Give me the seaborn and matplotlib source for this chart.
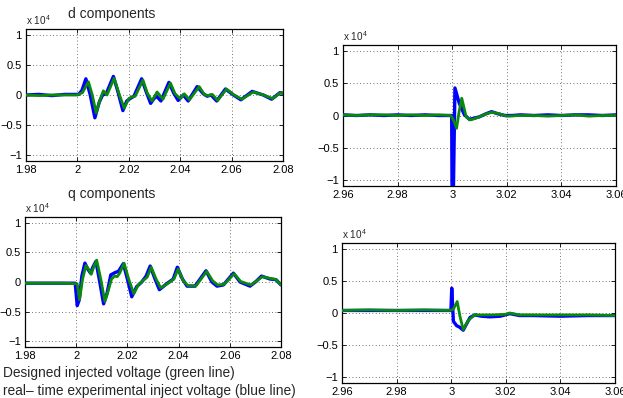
import numpy as np
import pandas as pd
import matplotlib
matplotlib.use("Agg")
import matplotlib.pyplot as plt
import seaborn as sns

sns.set_style("ticks")
plt.rcParams["font.family"] = ["Liberation Sans", "DejaVu Sans"]
plt.rcParams["mathtext.fontset"] = "custom"
plt.rcParams["mathtext.rm"] = "Liberation Sans"
plt.rcParams["mathtext.it"] = "Liberation Sans"
plt.rcParams["axes.unicode_minus"] = True

# ---- d components, 1.98 .. 2.08 s (values in units of 1e4) ----
d_real_t = [1.980, 1.985, 1.990, 1.995, 2.0005, 2.0018, 2.0033, 2.0050, 2.0068, 2.0085,
            2.0098, 2.0112, 2.0140, 2.0158, 2.0177, 2.0192, 2.0205, 2.0220, 2.0250, 2.0268,
            2.0285, 2.0298, 2.0308, 2.0325, 2.0356, 2.0375, 2.0392, 2.0412, 2.0431, 2.0466,
            2.0490, 2.0505, 2.0520, 2.0542, 2.0576, 2.0607, 2.0636, 2.0680, 2.0723, 2.0756,
            2.0788, 2.0800]
d_real_v = [0.00, 0.01, -0.01, 0.01, 0.01, 0.08, 0.27, 0.00, -0.38, -0.12,
            0.00, 0.02, 0.31, 0.05, -0.26, -0.10, -0.06, -0.02, 0.27, 0.05,
            -0.14, -0.06, -0.02, -0.10, 0.21, 0.03, -0.09, 0.00, -0.10, 0.14,
            0.02, -0.02, 0.00, -0.10, 0.10, 0.00, -0.08, 0.06, 0.00, -0.07,
            0.04, 0.03]
d_design_t = [1.980, 1.985, 1.990, 1.995, 2.0000, 2.0020, 2.0043, 2.0058, 2.0073, 2.0088,
              2.0101, 2.0115, 2.0143, 2.0162, 2.0182, 2.0200, 2.0212, 2.0225, 2.0255, 2.0272,
              2.0290, 2.0310, 2.0333, 2.0362, 2.0380, 2.0400, 2.0416, 2.0436, 2.0474, 2.0495,
              2.0510, 2.0525, 2.0546, 2.0580, 2.0610, 2.0640, 2.0684, 2.0725, 2.0760, 2.0790,
              2.0800]
d_design_v = [0.00, -0.01, 0.00, 0.00, 0.00, 0.04, 0.22, 0.00, -0.30, -0.08,
              0.07, 0.00, 0.28, 0.02, -0.22, -0.06, -0.03, -0.02, 0.25, 0.03,
              -0.10, 0.05, -0.07, 0.20, 0.02, -0.06, 0.02, -0.08, 0.14, 0.00,
              -0.01, 0.01, -0.09, 0.10, 0.00, -0.07, 0.05, 0.00, -0.06, 0.04,
              0.03]

# ---- q components, 1.98 .. 2.08 s ----
q_real_t = [1.980, 1.985, 1.990, 1.995, 1.9996, 2.0004, 2.0012, 2.0022, 2.0034, 2.0045,
            2.0056, 2.0065, 2.0077, 2.0092, 2.0107, 2.0120, 2.0135, 2.0152, 2.0165, 2.0184,
            2.0200, 2.0217, 2.0236, 2.0256, 2.0273, 2.0289, 2.0308, 2.0325, 2.0353, 2.0379,
            2.0395, 2.0415, 2.0433, 2.0464, 2.0507, 2.0530, 2.0550, 2.0575, 2.0614, 2.0640,
            2.0679, 2.0700, 2.0724, 2.0757, 2.0780, 2.0800]
q_real_v = [-0.02, -0.02, -0.02, -0.02, -0.02, -0.40, -0.30, 0.10, 0.32, 0.22,
            0.15, 0.25, 0.35, 0.00, -0.37, -0.20, 0.12, 0.16, 0.18, 0.31,
            0.05, -0.25, -0.08, 0.00, 0.10, 0.27, 0.05, -0.13, -0.03, 0.05,
            0.25, 0.05, -0.07, -0.07, 0.19, 0.00, -0.07, -0.05, 0.15, 0.00,
            -0.07, 0.00, 0.10, 0.05, 0.04, -0.05]
q_design_t = [1.980, 1.985, 1.990, 1.995, 2.0004, 2.0013, 2.0025, 2.0038, 2.0048, 2.0059,
              2.0068, 2.0080, 2.0096, 2.0112, 2.0125, 2.0138, 2.0150, 2.0160, 2.0170, 2.0187,
              2.0205, 2.0225, 2.0242, 2.0260, 2.0277, 2.0293, 2.0312, 2.0330, 2.0356, 2.0382,
              2.0398, 2.0418, 2.0436, 2.0467, 2.0510, 2.0533, 2.0553, 2.0578, 2.0617, 2.0642,
              2.0682, 2.0703, 2.0727, 2.0760, 2.0782, 2.0800]
q_design_v = [-0.02, -0.02, -0.02, -0.02, -0.03, -0.30, 0.05, 0.28, 0.22, 0.13,
              0.25, 0.37, 0.05, -0.33, -0.15, 0.05, 0.10, 0.09, 0.15, 0.32,
              0.05, -0.20, -0.05, 0.02, 0.08, 0.25, 0.05, -0.10, -0.03, 0.05,
              0.22, 0.02, -0.06, -0.07, 0.18, 0.02, -0.05, -0.04, 0.14, 0.01,
              -0.05, 0.01, 0.09, 0.06, 0.04, -0.05]

# ---- d components around the second step, 2.96 .. 3.06 s ----
d2_real_t = [2.960, 2.965, 2.970, 2.975, 2.980, 2.985, 2.990, 2.995, 2.9998, 3.0000,
             3.0003, 3.0010, 3.0026, 3.0045, 3.0063, 3.0082, 3.0100, 3.0120, 3.0144, 3.0165,
             3.0193, 3.0220, 3.0250, 3.0300, 3.0350, 3.0400, 3.0450, 3.0500, 3.0550, 3.0600]
d2_real_v = [0.01, 0.00, 0.01, 0.00, 0.01, 0.00, 0.01, 0.00, 0.00, -1.60,
             -1.60, 0.43, 0.19, 0.01, -0.06, -0.04, -0.02, 0.02, 0.06, 0.03,
             0.00, 0.00, 0.01, 0.00, 0.01, 0.00, 0.01, 0.01, 0.00, 0.01]
d2_design_t = [2.960, 2.965, 2.970, 2.975, 2.980, 2.985, 2.990, 2.995, 2.9995, 3.0008,
               3.0016, 3.0025, 3.0035, 3.0051, 3.0065, 3.0082, 3.0100, 3.0120, 3.0145, 3.0170,
               3.0200, 3.0250, 3.0300, 3.0350, 3.0400, 3.0450, 3.0500, 3.0550, 3.0600]
d2_design_v = [0.01, 0.00, 0.01, 0.01, 0.00, 0.01, 0.00, 0.01, 0.00, -0.10,
               -0.20, 0.05, 0.27, -0.02, -0.07, -0.05, -0.02, 0.02, 0.05, 0.03,
               -0.01, 0.00, 0.00, -0.01, 0.00, 0.01, -0.01, 0.00, 0.00]

# ---- q components around the second step, 2.96 .. 3.06 s ----
q2_real_t = [2.960, 2.970, 2.980, 2.990, 2.9999, 3.0002, 3.0008, 3.0020, 3.0030, 3.0044,
             3.0069, 3.0087, 3.0110, 3.0142, 3.0180, 3.0215, 3.0250, 3.0300, 3.0400, 3.0500,
             3.0600]
q2_real_v = [0.04, 0.04, 0.04, 0.04, 0.04, 0.39, -0.13, -0.20, -0.22, -0.27,
             -0.07, -0.03, -0.05, -0.06, -0.05, -0.01, -0.04, -0.04, -0.05, -0.04,
             -0.04]
q2_design_t = [2.960, 2.970, 2.980, 2.990, 2.9995, 3.0008, 3.0022, 3.0032, 3.0044, 3.0062,
               3.0085, 3.0110, 3.0150, 3.0200, 3.0215, 3.0250, 3.0300, 3.0400, 3.0500, 3.0600]
q2_design_v = [0.04, 0.05, 0.04, 0.05, 0.04, 0.06, 0.18, -0.05, -0.26, -0.12,
               -0.03, -0.03, -0.03, -0.02, 0.00, -0.03, -0.03, -0.03, -0.03, -0.04]

y_ticks = [-1, -0.5, 0, 0.5, 1]
y_labels = ["\u22121", "\u22120.5", "0", "0.5", "1"]
x_ticks_a = [1.98, 2.00, 2.02, 2.04, 2.06, 2.08]
x_labels_a = ["1.98", "2", "2.02", "2.04", "2.06", "2.08"]
x_ticks_b = [2.96, 2.98, 3.00, 3.02, 3.04, 3.06]
x_labels_b = ["2.96", "2.98", "3", "3.02", "3.04", "3.06"]

BLUE = "#0000ff"
GREEN = "#0a8a0a"

W, H = 623, 398
fig = plt.figure(figsize=(W / 100, H / 100), dpi=100)


def px_axes(left, top, right, bottom):
    return fig.add_axes([left / W, 1 - bottom / H, (right - left) / W, (bottom - top) / H])


panels = [
    (px_axes(26, 29, 283, 161), d_real_t, d_real_v, d_design_t, d_design_v, x_ticks_a, x_labels_a),
    (px_axes(25, 217, 281, 347), q_real_t, q_real_v, q_design_t, q_design_v, x_ticks_a, x_labels_a),
    (px_axes(343, 45, 616, 186), d2_real_t, d2_real_v, d2_design_t, d2_design_v, x_ticks_b, x_labels_b),
    (px_axes(342, 243, 615, 383), q2_real_t, q2_real_v, q2_design_t, q2_design_v, x_ticks_b, x_labels_b),
]

for ax, rt, rv, dt, dv, xt, xl in panels:
    real = pd.DataFrame({"t": rt, "v": rv})
    design = pd.DataFrame({"t": dt, "v": dv})
    sns.lineplot(data=real, x="t", y="v", ax=ax, color=BLUE, lw=2.4, sort=False, zorder=3,
                 solid_joinstyle="round", solid_capstyle="round")
    sns.lineplot(data=design, x="t", y="v", ax=ax, color=GREEN, lw=2.0, sort=False, zorder=4,
                 solid_joinstyle="round", solid_capstyle="round")
    ax.set_xlim(xt[0], xt[-1])
    ax.set_ylim(-1.1, 1.1)
    ax.set_xticks(xt)
    ax.set_xticklabels(xl)
    ax.set_yticks(y_ticks)
    ax.set_yticklabels(y_labels)
    ax.set_xlabel("")
    ax.set_ylabel("")
    ax.grid(True, color="#444444", linestyle=(0, (1, 3)), linewidth=0.6)
    ax.tick_params(direction="in", length=3, width=0.6, labelsize=8, pad=3,
                   top=True, right=True, colors="black")
    for s in ax.spines.values():
        s.set_linewidth(0.9)
        s.set_color("black")
    ax.text(0.0, 1.015, r"x 10$^{4}$", transform=ax.transAxes, fontsize=7.2,
            ha="left", va="bottom")

fig.text(112 / W, 1 - 14 / H, "d components", fontsize=10, ha="center", va="center")
fig.text(112 / W, 1 - 194 / H, "q components", fontsize=10, ha="center", va="center")
fig.text(3 / W, 1 - 373 / H, "Designed injected voltage (green line)", fontsize=9.9,
         ha="left", va="center")
fig.text(3 / W, 1 - 391 / H, "real\u2013 time experimental inject voltage (blue line)",
         fontsize=9.9, ha="left", va="center")

fig.savefig("out.png", dpi=100)
